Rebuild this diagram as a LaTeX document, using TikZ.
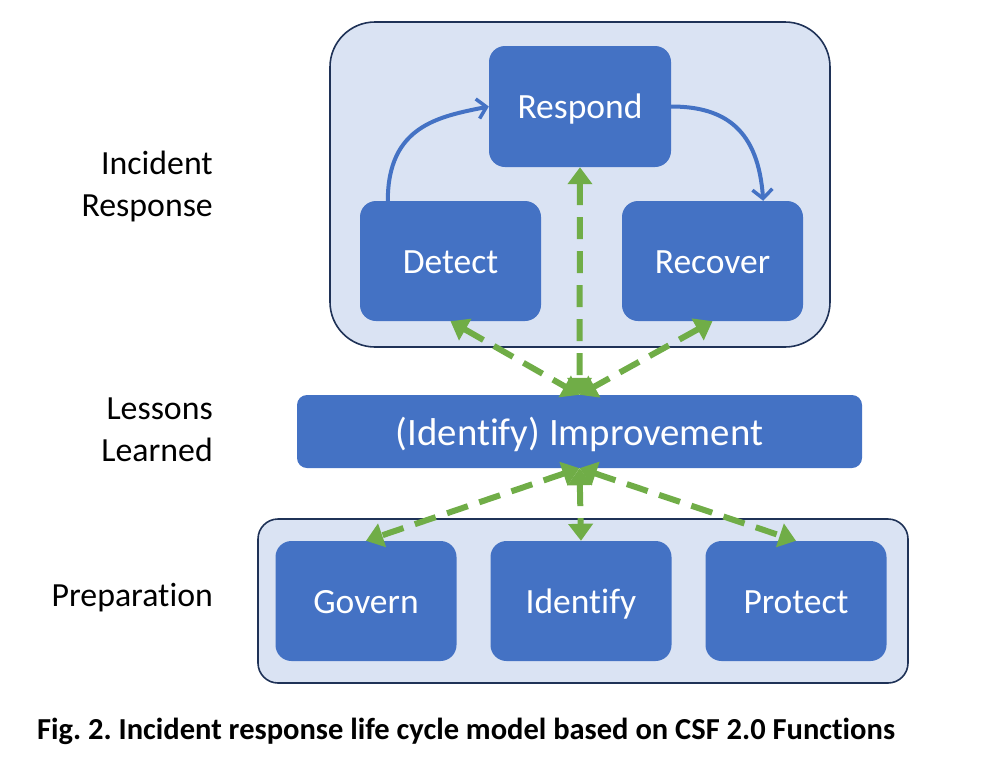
\documentclass[tikz,border=0pt]{standalone}
\usepackage{fontspec}
\setmainfont{Carlito}[Ligatures=NoCommon]
\usetikzlibrary{arrows.meta}

\definecolor{boxblue}{HTML}{4472C4}
\definecolor{groupfill}{HTML}{DAE3F3}
\definecolor{groupline}{HTML}{1F3257}
\definecolor{linkgreen}{HTML}{70AD47}

\begin{document}
\frenchspacing
\begin{tikzpicture}[x=1pt,y=-1pt]
	\tikzstyle{groupbox}=[draw=groupline,fill=groupfill,line width=1.6pt]
	\tikzstyle{funcbox}=[rectangle,rounded corners=16pt,fill=boxblue,text=white,minimum width=181pt,minimum height=120pt,font=\fontsize{35.5}{40}\selectfont,inner sep=0pt,text height=30pt,text depth=6pt]
	\tikzstyle{sidelabel}=[align=right,anchor=east,inner sep=0pt,font=\fontsize{33.8}{42}\selectfont]
	\tikzstyle{cyclearrow}=[draw=boxblue,line width=4pt,-{Straight Barb[length=9pt,width=20pt,line width=3.5pt]}]
	\tikzstyle{lifearrow}=[draw=linkgreen,line width=6pt,dash pattern=on 22pt off 12pt,{Triangle[length=17pt,width=24pt]}-{Triangle[length=17pt,width=24pt]}]

	\useasboundingbox (0,0) rectangle (985,769);

	% groups
	\draw[groupbox,rounded corners=45pt] (330,22) rectangle (830,347);
	\draw[groupbox,rounded corners=20pt] (258,519) rectangle (908,683);

	% functions
	\node[funcbox,minimum width=182pt,minimum height=121pt] (respond) at (580,106.5) {Respond};
	\node[funcbox] (detect) at (450.5,261) {Detect};
	\node[funcbox] (recover) at (712.5,261) {Recover};
	\node[funcbox,rounded corners=10pt,minimum width=565pt,minimum height=73pt,font=\fontsize{38.8}{44}\selectfont,text height=33pt] (improve) at (579.5,431.5) {(Identify) Improvement};
	\node[funcbox] (govern) at (366,601) {Govern};
	\node[funcbox] (identify) at (581,601) {Identify};
	\node[funcbox] (protect) at (796,601) {Protect};

	% phases
	\node[sidelabel] (lblresponse) at (213,186) {Incident\\Response};
	\node[sidelabel] (lbllessons) at (213,430) {Lessons\\Learned};
	\node[sidelabel] (lblprep) at (213,598) {Preparation};

	% response cycle
	\draw[cyclearrow] ([xshift=28pt]detect.north west) .. controls +(0,-75) and +(-50,10) .. (respond.west);
	\draw[cyclearrow] (respond.east) .. controls +(55,0) and +(-5,-70) .. ([xshift=-40pt]recover.north east);

	% improvement links
	\draw[lifearrow] (respond.south) -- (improve.north);
	\draw[lifearrow] (detect.south) -- (improve.north);
	\draw[lifearrow] (recover.south) -- (improve.north);
	\draw[lifearrow] (improve.south) -- (govern.north);
	\draw[lifearrow] (improve.south) -- (identify.north);
	\draw[lifearrow] (improve.south) -- (protect.north);

	\node[anchor=west,inner sep=0pt,font=\bfseries\fontsize{30.5}{34}\selectfont] (caption) at (37,731) {Fig. 2. Incident response life cycle model based on CSF 2.0 Functions};
\end{tikzpicture}
\end{document}
